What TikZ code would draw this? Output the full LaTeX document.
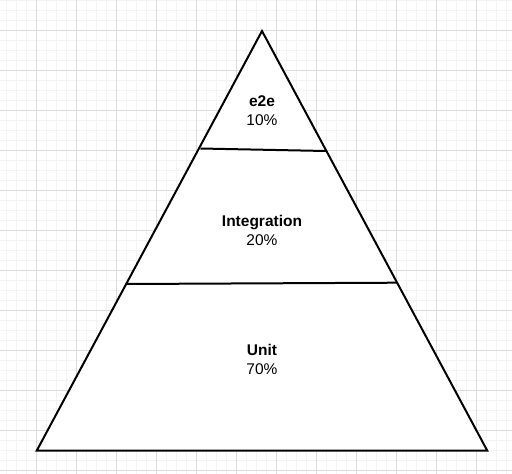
\documentclass[tikz,border=0pt]{standalone}
\usepackage{fontspec}
\setmainfont{Liberation Sans}
\definecolor{minorgrid}{HTML}{F3F3F3}
\definecolor{majorgrid}{HTML}{DCDCDC}
\begin{document}
\begin{tikzpicture}[x=1pt,y=-1pt,
  edge/.style={line width=2pt,line join=miter,line cap=butt},
  tiername/.style={font=\fontsize{15.5}{18}\selectfont\bfseries,anchor=base,inner sep=0pt},
  tierpct/.style={font=\fontsize{15.5}{18}\selectfont,anchor=base,inner sep=0pt}]
\useasboundingbox (0,0) rectangle (512,474);
\fill[white] (0,0) rectangle (512,474);
% grid
\foreach \i in {0,...,51} {\draw[minorgrid,line width=1pt] (6.7+10*\i,0) -- (6.7+10*\i,474);}
\foreach \i in {0,...,47} {\draw[minorgrid,line width=1pt] (0,0.7+10*\i) -- (512,0.7+10*\i);}
\foreach \i in {0,...,12} {\draw[majorgrid,line width=1pt] (-3.3+40*\i,0) -- (-3.3+40*\i,474);}
\foreach \i in {0,...,11} {\draw[majorgrid,line width=1pt] (0,30.7+40*\i) -- (512,30.7+40*\i);}
% pyramid
\coordinate (apex) at (262,31);
\coordinate (bl) at (36.7,450.7);
\coordinate (br) at (487.3,450.7);
\fill[white] (apex) -- (bl) -- (br) -- cycle;
\coordinate (d1l) at (200.5,148.5);
\coordinate (d1r) at (325.8,151);
\coordinate (d2l) at (126.4,284);
\coordinate (d2r) at (396.8,282.7);
\draw[edge] (d1l) -- (d1r);
\draw[edge] (d2l) -- (d2r);
\draw[edge] (apex) -- (bl) -- (br) -- cycle;
% labels
\node[tiername] (e2e) at (262,106) {e2e};
\node[tierpct] (e2ep) at (262,125) {10\%};
\node[tiername] (int) at (262,226) {Integration};
\node[tierpct] (intp) at (262,245) {20\%};
\node[tiername] (unit) at (262,355.5) {Unit};
\node[tierpct] (unitp) at (262,374.5) {70\%};
\end{tikzpicture}
\end{document}
